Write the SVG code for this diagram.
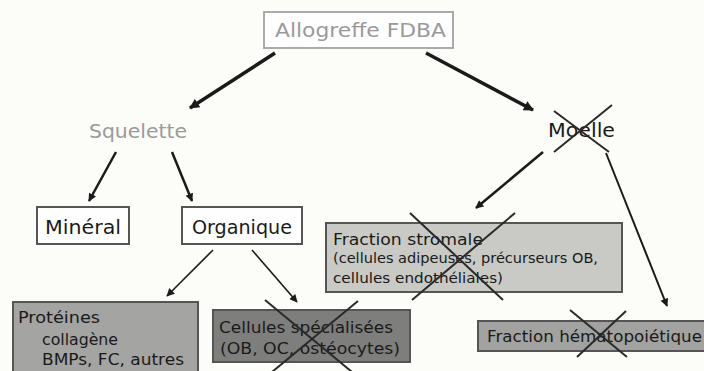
<svg xmlns="http://www.w3.org/2000/svg" width="704" height="371" viewBox="0 0 704 371">
<defs>
<marker id="ah" viewBox="0 0 10 10" refX="9" refY="5" markerWidth="12" markerHeight="10" markerUnits="userSpaceOnUse" orient="auto">
<path d="M0,0 L10,5 L0,10 z" fill="#1a1a1a"/>
</marker>
<marker id="ahs" viewBox="0 0 10 10" refX="9" refY="5" markerWidth="9" markerHeight="8" markerUnits="userSpaceOnUse" orient="auto">
<path d="M0,0 L10,5 L0,10 z" fill="#1a1a1a"/>
</marker>
</defs>
<style>
text{font-family:"DejaVu Sans","Liberation Sans",sans-serif;fill:#1a1a1a}
.gray{fill:#9a9a9a}
.box{stroke:#555;stroke-width:2}
.conn{stroke:#1a1a1a;fill:none}
.x{stroke:#2a2a2a;stroke-width:2}
</style>
<rect width="704" height="371" fill="#fcfcf8"/>

<g id="connectors">
<line class="conn" x1="275" y1="53" x2="190" y2="108" stroke-width="3.5" marker-end="url(#ah)"/>
<line class="conn" x1="426" y1="53" x2="533" y2="110" stroke-width="3.5" marker-end="url(#ah)"/>
<line class="conn" x1="116" y1="152" x2="89" y2="201" stroke-width="2.5" marker-end="url(#ahs)"/>
<line class="conn" x1="172" y1="152" x2="192" y2="201" stroke-width="2.5" marker-end="url(#ahs)"/>
<line class="conn" x1="543" y1="152" x2="476" y2="208" stroke-width="2.5" marker-end="url(#ahs)"/>
<line class="conn" x1="606" y1="153" x2="667" y2="306" stroke-width="2" marker-end="url(#ahs)"/>
<line class="conn" x1="213" y1="250" x2="167" y2="296" stroke-width="1.6" marker-end="url(#ahs)"/>
<line class="conn" x1="252" y1="250" x2="297" y2="302" stroke-width="1.6" marker-end="url(#ahs)"/>
</g>

<g id="allogreffe">
<rect x="264" y="12" width="189" height="36" fill="#fefefe" stroke="#aaa" stroke-width="2"/>
<text class="gray" x="275" y="37" font-size="20" textLength="171" lengthAdjust="spacingAndGlyphs">Allogreffe FDBA</text>
</g>

<g id="squelette">
<text class="gray" x="89" y="138" font-size="19" textLength="98" lengthAdjust="spacingAndGlyphs">Squelette</text>
</g>

<g id="moelle">
<text x="548" y="137" font-size="19" textLength="67" lengthAdjust="spacingAndGlyphs">Moelle</text>
<line class="x" x1="554" y1="111" x2="609" y2="152"/>
<line class="x" x1="612" y1="105" x2="554" y2="152"/>
</g>

<g id="mineral">
<rect class="box" x="37" y="207" width="92" height="37" fill="#fefefe"/>
<text x="45" y="234" font-size="19" textLength="76" lengthAdjust="spacingAndGlyphs">Minéral</text>
</g>

<g id="organique">
<rect class="box" x="182" y="207" width="120" height="37" fill="#fefefe"/>
<text x="192" y="234" font-size="19" textLength="100" lengthAdjust="spacingAndGlyphs">Organique</text>
</g>

<g id="proteines">
<rect class="box" x="13" y="302" width="185" height="75" fill="#a4a4a2"/>
<text x="18" y="323" font-size="16" textLength="82" lengthAdjust="spacingAndGlyphs">Protéines</text>
<text x="42" y="345" font-size="16" textLength="76" lengthAdjust="spacingAndGlyphs">collagène</text>
<text x="42" y="365" font-size="16" textLength="142" lengthAdjust="spacingAndGlyphs">BMPs, FC, autres</text>
</g>

<g id="cellules">
<rect class="box" x="213" y="310" width="197" height="52" fill="#7e7e7c"/>
<text x="219" y="333" font-size="16" textLength="174" lengthAdjust="spacingAndGlyphs">Cellules spécialisées</text>
<text x="220" y="354" font-size="16" textLength="180" lengthAdjust="spacingAndGlyphs">(OB, OC, ostéocytes)</text>
<line class="x" x1="265" y1="300" x2="352" y2="372"/>
<line class="x" x1="358" y1="301" x2="272" y2="372"/>
</g>

<g id="stromale">
<rect class="box" x="326" y="223" width="296" height="69" fill="#c9c9c5"/>
<text x="333" y="245" font-size="16" textLength="150" lengthAdjust="spacingAndGlyphs">Fraction stromale</text>
<text x="333" y="263" font-size="14" textLength="265" lengthAdjust="spacingAndGlyphs">(cellules adipeuses, précurseurs OB,</text>
<text x="333" y="283" font-size="14" textLength="170" lengthAdjust="spacingAndGlyphs">cellules endothéliales)</text>
<line class="x" x1="410" y1="213" x2="503" y2="300"/>
<line class="x" x1="515" y1="213" x2="412" y2="300"/>
</g>

<g id="hemato">
<rect class="box" x="478" y="321" width="230" height="30" fill="#a2a2a0"/>
<text x="487" y="342" font-size="15" textLength="215" lengthAdjust="spacingAndGlyphs">Fraction hématopoiétique</text>
<line class="x" x1="570" y1="310" x2="627" y2="357"/>
<line class="x" x1="626" y1="311" x2="577" y2="357"/>
</g>
</svg>
